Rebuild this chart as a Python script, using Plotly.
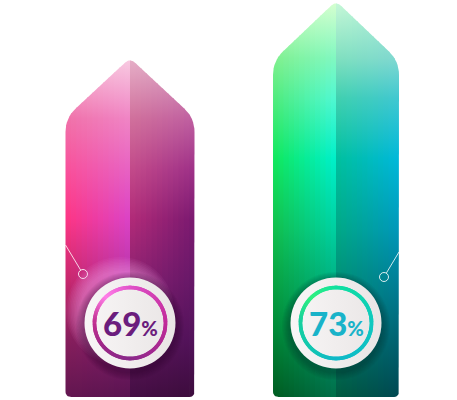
import numpy as np
import plotly.graph_objects as go

# data
values = [69, 73]
pct_labels = ["69", "73"]

# colour stacks for each half of each arrow (bottom -> top)
# stops are fractions of the arrow height
stops = [
    [0, 0.169, 0.347, 0.525, 0.674, 0.822, 1.0],
    [0, 0.17, 0.424, 0.602, 0.754, 0.855, 1.0],
]
# [outer left edge, left half by the seam, right half by the seam, outer right edge]
half_colors = [
    [
        ["#621650", "#861e5c", "#c8286e", "#fc3686", "#f8529c", "#f072aa", "#f8c4dc"],
        ["#5a1450", "#7c1c6c", "#b834a8", "#dc42c4", "#e862c2", "#f084c4", "#f8cce2"],
        ["#440e44", "#5e1658", "#8a2070", "#b02a78", "#c24a8a", "#d0709c", "#e6b0c8"],
        ["#3c0c3c", "#52125a", "#681868", "#7c1a70", "#a03288", "#c060a0", "#dca8c4"],
    ],
    [
        ["#005c22", "#008a38", "#10c050", "#10e860", "#50ec80", "#80f090", "#d4ffc8"],
        ["#006e48", "#00966a", "#00d0a0", "#00f0c8", "#50f8d0", "#80f8c0", "#d8ffd0"],
        ["#005a40", "#007a68", "#00a888", "#00c0a0", "#40d0b0", "#80e0c0", "#c8f8d8"],
        ["#004850", "#006878", "#0098b8", "#00b8d8", "#40c8d0", "#80d8d0", "#b0f0d8"],
    ],
]
text_colors = ["#6b1d7d", "#19b3c9"]
ring_colors = [
    [(-180, "#c03090"), (-135, "#9a2888"), (-90, "#8a2a8a"), (0, "#c02a98"),
     (90, "#e050c8"), (135, "#ff80e8"), (180, "#c03090")],
    [(-180, "#18d0a0"), (-135, "#14c8b0"), (-90, "#10b8c8"), (0, "#10c8c0"),
     (90, "#10e0a0"), (135, "#30f080"), (180, "#18d0a0")],
]

# layout constants
W, H = 457, 400
Y0, Y1 = 45.0, 73.07
PXU = H / (Y1 - Y0)          # pixels per y unit
BASE = Y0 + 3 / PXU
centers = [130, 336]
half_w = [64.5, 63]
HEAD = 60
NCOL = 12


def hex2rgb(c):
    c = c.lstrip("#")
    return np.array([int(c[i:i + 2], 16) for i in (0, 2, 4)], dtype=float)


def mix(c1, c2, t):
    r = hex2rgb(c1) * (1 - t) + hex2rgb(c2) * t
    return "rgb(%d,%d,%d)" % tuple(np.round(r))


def rounded(poly, radii, n=9):
    out = []
    m = len(poly)
    for i in range(m):
        p = np.array(poly[i], float)
        a = np.array(poly[i - 1], float)
        b = np.array(poly[(i + 1) % m], float)
        r = radii[i]
        u = (a - p) / np.linalg.norm(a - p)
        w = (b - p) / np.linalg.norm(b - p)
        p1, p2 = p + u * r, p + w * r
        for t in np.linspace(0, 1, n):
            out.append((1 - t) ** 2 * p1 + 2 * (1 - t) * t * p + t ** 2 * p2)
    return out


def clip_x(poly, lo, hi):
    def clip(pts, keep, xc):
        res = []
        for i in range(len(pts)):
            p, q = pts[i], pts[(i + 1) % len(pts)]
            kp, kq = keep(p[0]), keep(q[0])
            if kp:
                res.append(p)
            if kp != kq:
                t = (xc - p[0]) / (q[0] - p[0])
                res.append((xc, p[1] + t * (q[1] - p[1])))
        return res
    pts = clip(list(poly), lambda x: x >= lo, lo)
    return clip(pts, lambda x: x <= hi, hi)


fig = go.Figure()

for k, v in enumerate(values):
    cx, hw = centers[k], half_w[k]
    B, T = BASE * PXU, v * PXU
    outline = rounded(
        [(cx - hw, B), (cx - hw, T - HEAD), (cx, T), (cx + hw, T - HEAD), (cx + hw, B)],
        [6, 14, 7, 14, 6],
    )
    # two halves, each cut into thin columns with a vertical gradient
    for h in range(2):
        left_stack = half_colors[k][2 * h]
        right_stack = half_colors[k][2 * h + 1]
        x_start = cx - hw if h == 0 else cx
        cw = hw / NCOL
        for i in range(NCOL):
            s = i / (NCOL - 1)
            lo = x_start + i * cw
            hi = lo + cw + (1.0 if not (h == 1 and i == NCOL - 1) else 0)
            pts = clip_x(outline, lo, hi)
            if len(pts) < 3:
                continue
            xs = [p[0] for p in pts] + [pts[0][0]]
            ys = [p[1] / PXU for p in pts] + [pts[0][1] / PXU]
            cs = [[stops[k][j], mix(left_stack[j], right_stack[j], s)]
                  for j in range(len(stops[k]))]
            fig.add_trace(go.Scatter(
                x=xs, y=ys, mode="lines", fill="toself", line=dict(width=0),
                fillgradient=dict(type="vertical", colorscale=cs, start=BASE, stop=v),
                hoverinfo="skip"))

    # connector line + small ring
    side = -1 if k == 0 else 1
    edge_h = [152, 145][k]
    dot = (cx + side * [47, 48][k], [123, 120][k])
    ex, ey = cx + side * hw, edge_h
    d = np.hypot(dot[0] - ex, dot[1] - ey)
    fx = dot[0] - (dot[0] - ex) / d * 4.5
    fy = dot[1] - (dot[1] - ey) / d * 4.5
    fig.add_trace(go.Scatter(
        x=[ex, fx], y=[BASE + ey / PXU, BASE + fy / PXU], mode="lines",
        line=dict(color="rgba(255,255,255,0.8)", width=1), hoverinfo="skip"))
    fig.add_trace(go.Scatter(
        x=[dot[0]], y=[BASE + dot[1] / PXU], mode="markers",
        marker=dict(size=9, color="rgba(0,0,0,0)",
                    line=dict(color="rgba(255,255,255,0.85)", width=1)),
        hoverinfo="skip"))

    # badge: soft glow / shadow built from stacked faint discs
    cy = BASE + 74 / PXU
    if k == 0:
        for s in range(10):
            fig.add_trace(go.Scatter(
                x=[cx - 10], y=[cy + 12 / PXU], mode="markers",
                marker=dict(size=108 - s * 3, color="rgba(255,170,235,0.06)",
                            line=dict(width=0)),
                hoverinfo="skip"))
    for s in range(8):
        fig.add_trace(go.Scatter(
            x=[cx], y=[cy - 3 / PXU], mode="markers",
            marker=dict(size=108 - s * 2, color=["rgba(40,0,40,0.05)", "rgba(0,35,30,0.05)"][k],
                        line=dict(width=0)),
            hoverinfo="skip"))
    fig.add_trace(go.Scatter(
        x=[cx], y=[cy], mode="markers",
        marker=dict(size=91, color="#f8f6f6",
                    gradient=dict(type="horizontal", color="#e9e5e5"),
                    line=dict(width=0)),
        hoverinfo="skip"))
    # ring as a dense chain of small dots
    ang = np.linspace(-180, 180, 240, endpoint=False)
    a_st = [a for a, _ in ring_colors[k]]
    rc = []
    for a in ang:
        j = np.searchsorted(a_st, a, side="right") - 1
        j = min(j, len(a_st) - 2)
        t = (a - a_st[j]) / (a_st[j + 1] - a_st[j])
        rc.append(mix(ring_colors[k][j][1], ring_colors[k][j + 1][1], t))
    r = 35.5
    fig.add_trace(go.Scatter(
        x=cx + r * np.cos(np.radians(ang)),
        y=cy + r * np.sin(np.radians(ang)) / PXU,
        mode="markers", marker=dict(size=3.8, color=rc, line=dict(width=0)),
        hoverinfo="skip"))
    fig.add_annotation(
        x=cx, y=cy, xref="x", yref="y", showarrow=False,
        text=pct_labels[k] + "<span style='font-size:20px'>%</span>",
        font=dict(family="Lato", size=33, color=text_colors[k], weight=900))

fig.update_layout(
    width=W, height=H, margin=dict(l=0, r=0, t=0, b=0, pad=0),
    paper_bgcolor="white", plot_bgcolor="white", showlegend=False,
    xaxis=dict(range=[0, W], visible=False, fixedrange=True),
    yaxis=dict(range=[Y0, Y1], visible=False, fixedrange=True),
)
fig.write_html("out.html", config={"displayModeBar": False},
               post_script="document.body.style.margin='0';")
